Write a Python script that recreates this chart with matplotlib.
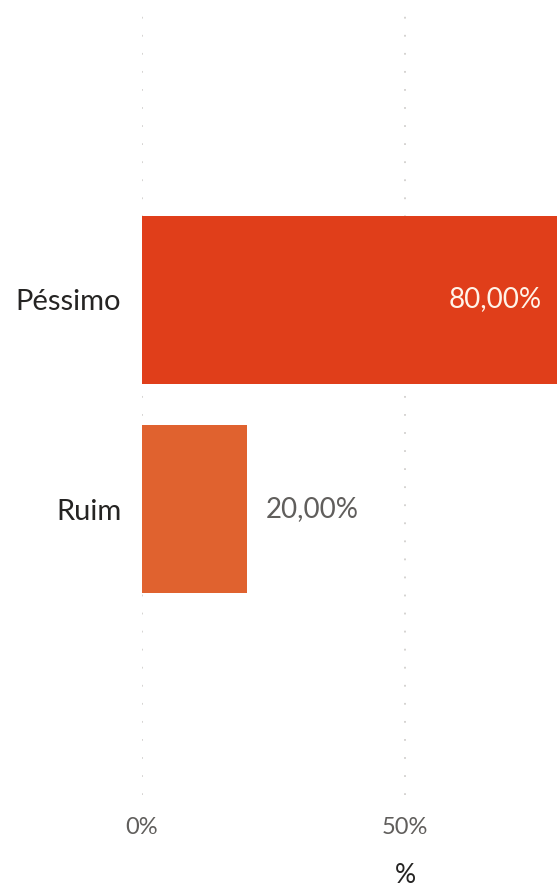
import matplotlib
matplotlib.use("Agg")
import matplotlib.pyplot as plt

categories = ["Péssimo", "Ruim"]
values = [0.80, 0.20]
bar_colors = ["#E03E1A", "#E0622F"]
label_texts = ["80,00%", "20,00%"]
xticks = [0.0, 0.5]
xtick_labels = ["0%", "50%"]

FONT = ["Lato", "DejaVu Sans"]

W, H = 557, 888
fig = plt.figure(figsize=(W / 100, H / 100), dpi=100)
ax = fig.add_axes([142 / W, (H - 795) / H, 526 / W, 781 / H])

ypos = list(range(len(categories)))
bars = ax.barh(ypos, values, height=0.80, color=bar_colors, zorder=2)

ax.set_xlim(0, 1)
ax.set_ylim(2.36, -1.36)
ax.set_yticks(ypos)
ax.set_yticklabels(categories, fontsize=21, color="#252423", family=FONT)
ax.set_xticks(xticks)
ax.set_xticklabels(xtick_labels, fontsize=17, color="#605E5C", family=FONT)
ax.tick_params(axis="both", length=0)
ax.tick_params(axis="y", pad=15)
ax.tick_params(axis="x", pad=16)
for s in ax.spines.values():
    s.set_visible(False)
ax.grid(axis="x", linestyle=(0, (1, 9)), color="#D2D0CE", linewidth=1.3, zorder=0)
ax.set_axisbelow(True)
ax.set_xlabel("%", fontsize=19, color="#252423", family=FONT, labelpad=18)

for i, (v, t) in enumerate(zip(values, label_texts)):
    if v > 0.5:
        ax.annotate(t, (v, i), xytext=(-15, 0), textcoords="offset points",
                    ha="right", va="center", fontsize=20, color="#FFF3E8", family=FONT)
    else:
        ax.annotate(t, (v, i), xytext=(13, 0), textcoords="offset points",
                    ha="left", va="center", fontsize=20, color="#605E5C", family=FONT)

fig.savefig("out.png", dpi=100, facecolor="white")
